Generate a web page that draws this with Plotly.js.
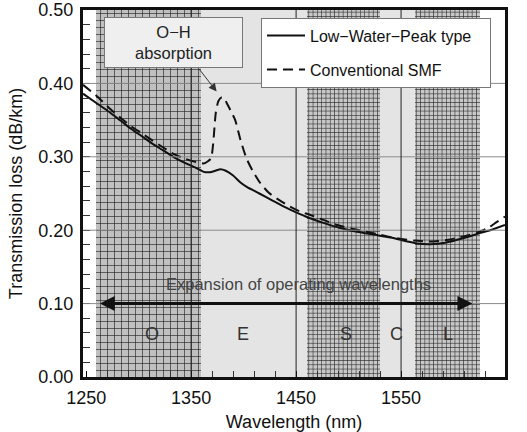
<!DOCTYPE html>
<html>
<head>
<meta charset="utf-8">
<script src="https://cdn.plot.ly/plotly-3.0.1.min.js"></script>
<style>html,body{margin:0;padding:0;background:#fff;}</style>
</head>
<body>
<div id="chart" style="width:527px;height:432px;"></div>
<script>
// ---- Data ----
const wlLowWater = [1247,1260,1273,1283,1293,1303,1313,1323,1333,1345,1356,1362,1368,1373,1378,1383,1390,1397,1403,1415,1428,1440,1449,1462,1476,1492,1508,1524,1540,1555,1565,1578,1592,1609,1625,1637,1649];
const lossLowWater = [0.386,0.373,0.360,0.349,0.338,0.328,0.318,0.309,0.300,0.291,0.284,0.2795,0.279,0.281,0.283,0.281,0.2745,0.265,0.259,0.250,0.240,0.231,0.225,0.217,0.210,0.203,0.198,0.194,0.190,0.185,0.182,0.181,0.183,0.189,0.196,0.201,0.207];

const wlConventional = [1247,1260,1273,1283,1293,1303,1313,1323,1333,1345,1356,1362,1366,1369,1371,1373.5,1376,1379,1381,1384,1388,1392,1397,1403,1409,1416,1424,1434,1444,1453,1463,1476,1489,1503,1517,1530,1546,1562,1581,1595,1606,1616,1625,1634,1641,1649];
const lossConventional = [0.398,0.383,0.365,0.353,0.3415,0.332,0.3224,0.313,0.304,0.297,0.2924,0.291,0.294,0.298,0.318,0.360,0.376,0.381,0.381,0.373,0.362,0.350,0.323,0.297,0.280,0.264,0.251,0.241,0.2324,0.226,0.221,0.214,0.207,0.202,0.198,0.1937,0.189,0.186,0.1846,0.187,0.1905,0.194,0.198,0.204,0.211,0.2186];

const bandNames = ['O','E','S','C','L'];
const bandStart = [1259,1359,1460.5,1530,1563];
const bandEnd   = [1359,1460.5,1530,1563,1625];
const bandLabelX = [1313,1399,1497.5,1546,1595];
const bandLabelY = 0.058;

const xTicks = [1250,1350,1450,1550,1650];
const yTicks = [0,0.1,0.2,0.3,0.4,0.5];
const yTickText = ['0.00','0.10','0.20','0.30','0.40','0.50'];

// ---- Styling ----
const FONT = 'Liberation Sans, Arial, Helvetica, sans-serif';
const bandStyles = [
  {kind:'hatch', size:7, solidity:0.17, fg:'#1e1e1e', bg:'#c0c0c0'},
  {kind:'solid', color:'#e4e4e4'},
  {kind:'hatch', size:4.3, solidity:0.26, fg:'#2a2a2a', bg:'#c8c8c8'},
  {kind:'solid', color:'#e4e4e4'},
  {kind:'hatch', size:4.3, solidity:0.26, fg:'#2a2a2a', bg:'#c8c8c8'}
];

const traces = [];
bandNames.forEach((b,i)=>{
  const st = bandStyles[i];
  const marker = st.kind==='hatch'
    ? {color: st.fg, pattern:{shape:'+', fgcolor: st.fg, bgcolor: st.bg, size: st.size, solidity: st.solidity, fillmode:'replace'}, line:{width:0}}
    : {color: st.color, line:{width:0}};
  traces.push({
    type:'bar', x:[(bandStart[i]+bandEnd[i])/2], y:[0.5], base:[0],
    width:[bandEnd[i]-bandStart[i]], marker: marker,
    showlegend:false, hoverinfo:'skip', name: b+' band'
  });
});

traces.push({
  type:'scatter', mode:'lines', x: wlLowWater, y: lossLowWater,
  name:'Low\u2212Water\u2212Peak type\u00a0\u00a0\u00a0', legendgroup:'a',
  line:{color:'#111', width:2, shape:'spline', smoothing:0.8}
});
traces.push({
  type:'scatter', mode:'lines', x: wlConventional, y: lossConventional,
  name:'Conventional SMF', legendgroup:'b',
  line:{color:'#111', width:2, dash:'10px,6px', shape:'spline', smoothing:0.6}
});

const shapes = [];
[0.1,0.2,0.3,0.4].forEach(v=>shapes.push({type:'line', xref:'paper', x0:0, x1:1, yref:'y', y0:v, y1:v, line:{color:'#8a8a8a', width:1}, layer:'above'}));
[1350,1450,1550].forEach(v=>shapes.push({type:'line', yref:'paper', y0:0, y1:1, xref:'x', x0:v, x1:v, line:{color:'#222', width:1}, layer:'above'}));

const annotations = [];
bandNames.forEach((b,i)=>annotations.push({
  x: bandLabelX[i], y: bandLabelY, xref:'x', yref:'y', text: b, showarrow:false,
  font:{family:FONT, size:18, color:'#333'}
}));
annotations.push({x:1452.7, y:0.1268, xref:'x', yref:'y', text:'Expansion of operating wavelengths', showarrow:false,
  font:{family:FONT, size:16.5, color:'#444'}});
annotations.push({x:1263, y:0.1, ax:1460, ay:0.1, xref:'x', yref:'y', axref:'x', ayref:'y', text:'', showarrow:true,
  arrowhead:2, arrowsize:1, arrowwidth:3, arrowcolor:'#111', startstandoff:0});
annotations.push({x:1618, y:0.1, ax:1420, ay:0.1, xref:'x', yref:'y', axref:'x', ayref:'y', text:'', showarrow:true,
  arrowhead:2, arrowsize:1, arrowwidth:3, arrowcolor:'#111', startstandoff:0});
annotations.push({x:1333.2, y:0.4563, xref:'x', yref:'y', text:'O\u2212H<br>absorption', showarrow:false,
  font:{family:FONT, size:16.5, color:'#222'}, bgcolor:'#efefef', bordercolor:'#777', borderwidth:1,
  width:135, height:47, align:'center'});
annotations.push({x:1374.3, y:0.389, ax:1356.5, ay:0.4216, xref:'x', yref:'y', axref:'x', ayref:'y', text:'', showarrow:true,
  arrowhead:2, arrowsize:1.6, arrowwidth:1, arrowcolor:'#333'});

const layout = {
  width:527, height:432,
  margin:{l:83, r:22, t:10, b:55},
  paper_bgcolor:'#fff', plot_bgcolor:'#fff',
  barmode:'overlay', bargap:0,
  showlegend:true,
  legend:{x:0.4218, y:0.979, xanchor:'left', yanchor:'top', bgcolor:'#fff', bordercolor:'#777', borderwidth:1,
    font:{family:FONT, size:16, color:'#111'}, tracegroupgap:10, itemwidth:38},
  xaxis:{range:[1247,1649], tickvals:xTicks, ticks:'inside', ticklen:6, tickcolor:'#000',
    showgrid:false, zeroline:false, showline:true, linewidth:3, linecolor:'#111', mirror:true,
    tickfont:{family:FONT, size:18, color:'#111'}, ticklabelstandoff:2,
    minor:{dtick:20, tick0:1250, ticks:'inside', ticklen:6, tickcolor:'#333', showgrid:false},
    title:{text:'Wavelength (nm)', font:{family:FONT, size:18, color:'#111'}}},
  yaxis:{range:[0,0.5], tickvals:yTicks, ticktext:yTickText, ticks:'inside', ticklen:7, tickcolor:'#000',
    showgrid:false, zeroline:false, showline:true, linewidth:3, linecolor:'#111', mirror:true,
    tickfont:{family:FONT, size:18, color:'#111'}, ticklabelstandoff:3,
    minor:{dtick:0.02, tick0:0, ticks:'inside', ticklen:7, tickcolor:'#333', showgrid:false},
    title:{text:'Transmission loss (dB/km)', standoff:12, font:{family:FONT, size:18, color:'#111'}}},
  shapes: shapes,
  annotations: annotations
};

Plotly.newPlot('chart', traces, layout, {staticPlot:true, displayModeBar:false});
</script>
</body>
</html>
